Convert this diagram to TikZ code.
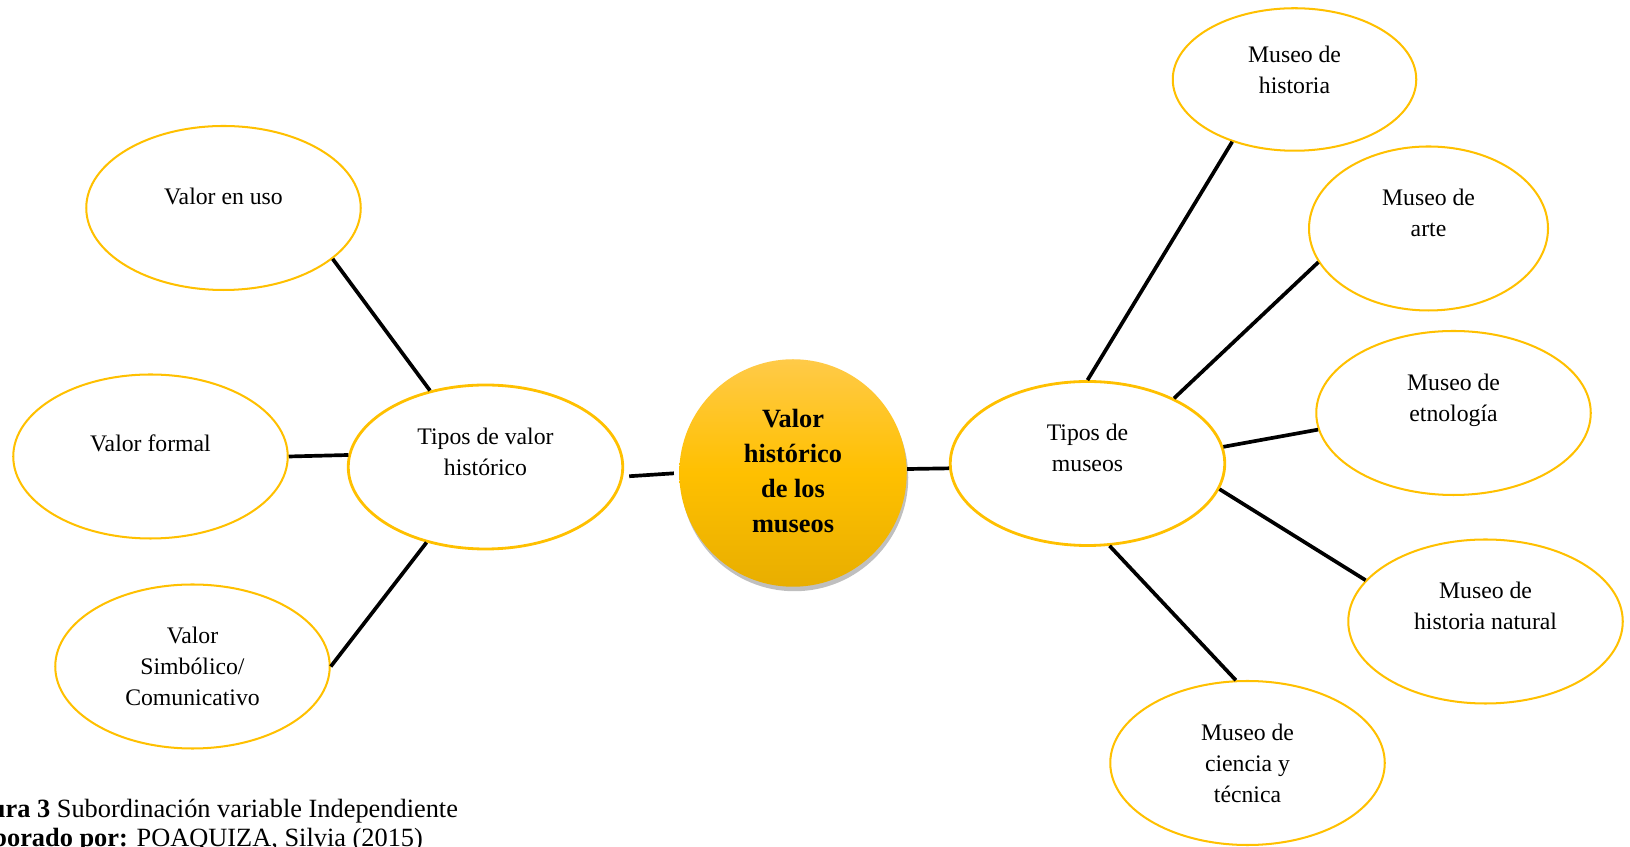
\documentclass[tikz,border=0pt]{standalone}
\usepackage{fontspec}
\setmainfont{Liberation Serif}
\usepackage{xcolor}
\usetikzlibrary{shapes.geometric,shadows}
\definecolor{gold}{RGB}{255,192,0}
\definecolor{goldtop}{RGB}{255,202,72}
\definecolor{goldbot}{RGB}{232,174,0}

\begin{document}
\begin{tikzpicture}[
  oval/.style={ellipse,draw=gold,line width=1.15pt,fill=white,inner sep=0pt,
    minimum width=5.49cm,minimum height=3.28cm,align=center,
    font=\fontsize{13.5}{17.6}\selectfont},
  mainoval/.style={oval,line width=1.6pt},
  link/.style={line width=2.1pt}
]
\useasboundingbox (0,0) rectangle (32.6,16.92);
\clip (0,0) rectangle (32.6,16.92);

% Centre
\node[circle,minimum size=4.55cm,inner sep=0pt,align=center,
  top color=goldtop,bottom color=goldbot,middle color=gold,
  drop shadow={opacity=0.5,shadow xshift=0.03cm,shadow yshift=-0.09cm},
  font=\fontsize{15}{20}\selectfont\bfseries] (cent) at (15.86,7.46) {\mbox{}\\[-12pt]Valor\\histórico\\de los\\museos};

% Left branch
\node[mainoval] (tipv) at (9.71,7.58) {Tipos de valor\\histórico\\ \mbox{}};
\node[oval] (uso) at (4.47,12.76) {Valor en uso\\[-4pt] \mbox{}};
\node[oval] (formal) at (3.01,7.79) {Valor formal\\[-2pt] \mbox{}};
\node[oval] (simb) at (3.85,3.59) {Valor\\Simbólico/\\Comunicativo};

\draw[link] (uso.-25) -- (tipv.126);
\draw[link] (formal.east) -- (tipv.175);
\draw[link] (simb.east) -- (tipv.232);
\draw[link,shorten <=0.12cm,shorten >=0.1cm] (tipv.-4) -- (cent.west);

% Right branch
\node[mainoval] (tipm) at (21.75,7.65) {Tipos de\\museos\\ \mbox{}};
\node[oval,minimum width=4.87cm,minimum height=2.85cm] (mhist) at (25.89,15.33) {Museo de\\historia\\[-7pt] \mbox{}};
\node[oval,minimum width=4.78cm] (marte) at (28.57,12.35) {Museo de\\arte\\ \mbox{}};
\node[oval] (metno) at (29.07,8.66) {Museo de\\etnología\\ \mbox{}};
\node[oval] (mnat) at (29.71,4.49) {Museo de\\historia natural\\ \mbox{}};
\node[oval] (mcien) at (24.95,1.66) {Museo de\\ciencia y\\técnica};

\draw[link] (cent.2) -- (tipm.182);
\draw[link] (tipm.north) -- (mhist.225);
\draw[link] (tipm.37) -- (marte.197);
\draw[link] (tipm.7) -- (metno.187);
\draw[link] (tipm.-11) -- (mnat.161);
\draw[link] (tipm.-75) -- (mcien.98);

% Caption
\node[anchor=west,align=left,inner sep=0pt,font=\fontsize{15}{16.5}\selectfont] (capt) at (-0.92,0.41)
  {\textbf{Figura 3} Subordinación variable Independiente\\\textbf{Elaborado por:} POAQUIZA, Silvia (2015)};
\end{tikzpicture}
\end{document}
